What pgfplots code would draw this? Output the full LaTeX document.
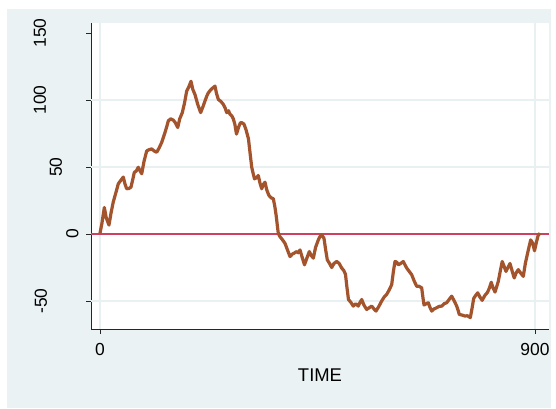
\documentclass[border=0pt]{standalone}
\usepackage{fontspec}
\setmainfont{Liberation Sans}
\usepackage{pgfplots}
\pgfplotsset{compat=1.18}

\definecolor{bgcol}{RGB}{234,242,243}
\definecolor{gridcol}{RGB}{232,240,241}
\definecolor{sienna}{RGB}{163,84,45}
\definecolor{cranberry}{RGB}{206,63,96}

\begin{document}
\begin{tikzpicture}[x=1bp,y=1bp]
  % page and graph region
  \fill[white] (-91,-79) rectangle (465,329);
  \fill[bgcol] (-84,-79) rectangle (460,320);
  \begin{axis}[
    at={(0,0)}, anchor=south west,
    scale only axis, width=458bp, height=306bp,
    xmin=-18.6, xmax=929, ymin=-70.9, ymax=157.5,
    axis background/.style={fill=white},
    axis lines*=left,
    axis line style={black!85, line width=0.9bp},
    tick align=outside, major tick length=5bp,
    every tick/.style={black!85, line width=0.9bp},
    xtick={0,900}, xticklabels={0,900},
    xmajorgrids,
    grid style={gridcol, line width=1.1bp},
    xticklabel style={inner sep=0pt, anchor=north, yshift=-9bp,
      font=\fontsize{17.5}{20}\selectfont},
    ytick={-50,0,50,100,150},
    yticklabel={\ifcase\ticknum \raisebox{39bp}{-50}\or \raisebox{7.5bp}{0}\or \raisebox{24bp}{50}\or \raisebox{40bp}{100}\or \raisebox{40bp}{150}\fi},
    yticklabel style={rotate=90, anchor=south, inner sep=0pt,
      font=\fontsize{17.5}{20}\selectfont},
    extra y ticks={-50,0,50,100},
    extra y tick labels={},
    extra y tick style={grid=major, major tick length=0pt},
    xlabel={TIME},
    xlabel style={at={(axis description cs:0.5,0)}, anchor=north, inner sep=0pt,
      yshift=-40bp, font=\fontsize{18.5}{21}\selectfont},
    clip=false,
  ]
    % reference line at zero
    \addplot[cranberry, line width=1.3bp] coordinates {(-18.6,0) (929,0)};
    % the series
    \addplot[sienna, line width=3.2bp, line join=round] coordinates {
      (0,0.5) (4,8) (9,19.8) (13,12) (18.6,6.7) (23,16) (27.5,24) (33,31)
      (37.9,37.5) (43,40) (48.2,42.5) (52,37) (55.2,33.8) (60,34) (64.1,35)
      (68,41) (71,46) (75,47) (79.2,49.8) (83,47) (86.3,45) (91,54) (96.6,62)
      (102,63) (107,63.5) (112,62) (117.3,61) (122,64) (127.7,68.4) (131,72)
      (134.5,75.8) (138,80) (141.3,84.4) (146,86) (151.7,85) (156,83)
      (160.8,79.5) (165,86) (170.3,90.6) (175,98) (179.4,106.7) (184,110)
      (188.3,114) (192,108) (196.6,104) (202,97) (208.3,90.6) (213,95)
      (217.2,99.3) (221,103) (224.1,105.4) (230,108) (237.9,110.4) (241,105)
      (244.8,100.5) (250,99) (255.1,96.8) (259,94) (262.1,90.6) (266,92)
      (269,89.4) (273,88) (275.8,86) (279,82) (282.4,74.6) (287,80)
      (290.7,83.2) (294,83) (297.9,82) (302,78) (307.2,71) (310,62)
      (313.9,49.9) (317,45) (319.7,41.2) (324,42) (327.5,43.7) (331,38)
      (334.6,33.8) (338,37) (341.4,38.7) (345,33) (349.2,29) (354,27)
      (358.6,26.4) (362,20) (364.8,13) (367,6) (368.9,0.5) (372.4,-2)
      (377,-4) (382.8,-7) (388,-12) (393.1,-16.8) (398,-15) (403,-14)
      (407,-13.1) (410,-14) (413.8,-11.9) (418,-17) (423.1,-23) (428,-18)
      (433.1,-13.1) (437,-16) (441.4,-18) (446,-10) (451.7,-4.4) (455,-2)
      (458.7,-0.7) (463.4,-3.2) (467,-12) (470.3,-19.3) (475,-22) (479.4,-25)
      (484,-22) (489.7,-20.5) (495,-22) (500,-25.4) (504,-27) (507.9,-30)
      (511,-40) (514.1,-48.9) (519,-51) (524.1,-53.8) (529,-52) (534.4,-53.8)
      (538,-51) (541.5,-48.9) (546,-53) (551.8,-56.3) (557,-55) (562.2,-53.8)
      (567,-56) (571.1,-57.5) (577,-54) (582.8,-50) (588,-47) (593.2,-45)
      (598,-42) (603.5,-37.8) (607,-28) (610.4,-20.5) (614,-21) (617.2,-23)
      (622,-22) (627.5,-20.5) (631,-23) (634.6,-25.4) (640,-28) (644.9,-30.4)
      (650,-35) (655.2,-39) (660,-39) (665.6,-40.2) (668,-47) (670.4,-53)
      (675,-52) (679.2,-51.3) (683,-55) (686.3,-57.5) (691,-56) (696.6,-55)
      (702,-54) (707,-53.8) (712,-52) (717.3,-51.3) (722,-49) (727.7,-46.4)
      (733,-50) (738,-53.8) (741,-57) (743.4,-60) (749,-60.5) (755.2,-61.2)
      (760,-61) (766.2,-62.4) (770,-55) (773.2,-48) (777,-46) (781.5,-43.9)
      (786,-47) (790.8,-49.5) (796,-46) (801.8,-43.5) (806,-40) (809.5,-36)
      (813,-40) (817.3,-43.3) (821,-39) (824.1,-35.3) (828,-28) (832.2,-20.5)
      (836,-24) (840,-27.9) (844,-25) (848.3,-22) (853,-28) (857,-32.8)
      (861,-29) (865.5,-26.6) (870,-29) (875.8,-31.6) (880,-22) (886.2,-11.9)
      (891.1,-4.4) (895.3,-6.9) (899,-12.5) (903,-6) (906.8,-0.7) (910.3,0.5)
    };
  \end{axis}
\end{tikzpicture}
\end{document}
